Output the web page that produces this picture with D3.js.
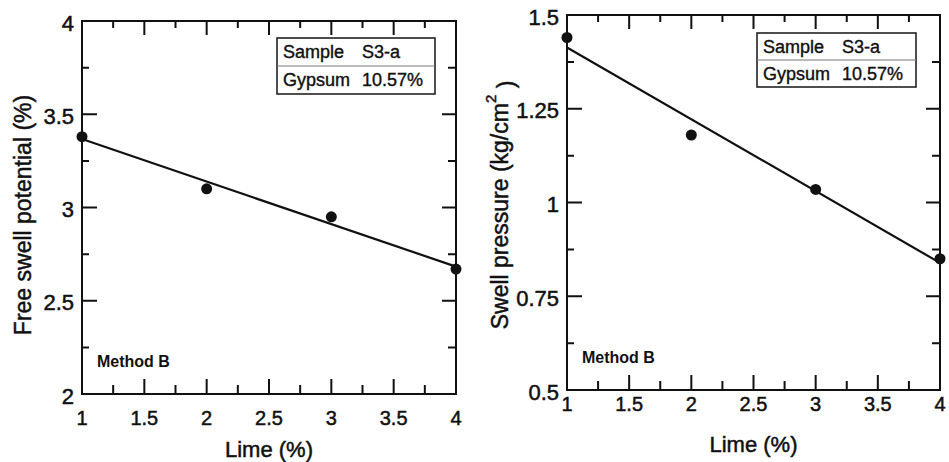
<!DOCTYPE html>
<html>
<head>
<meta charset="utf-8">
<script src="https://cdn.jsdelivr.net/npm/d3@7"></script>
<style>
  body { margin: 0; background: #fff; }
  svg { display: block; font-family: 'Liberation Sans', Arial, sans-serif; }
</style>
</head>
<body>
<div id="chart"></div>
<script>
// values
const limePct = [1, 2, 3, 4]
const freeSwell = [3.38, 3.10, 2.95, 2.67]
const swellPressure = [1.44, 1.18, 1.035, 0.85]

const limeTicks = [1, 1.5, 2, 2.5, 3, 3.5, 4]
const freeSwellTicks = [2, 2.5, 3, 3.5, 4]
const pressureTicks = [0.5, 0.75, 1, 1.25, 1.5]

const legendRows = [['Sample', 'S3-a'], ['Gypsum', '10.57%']]

const svg = d3.select('#chart')
  .append('svg')
  .attr('width', 949)
  .attr('height', 462)

let panels = [
  {
    box: { left: 82, right: 456, top: 21, bottom: 394 },
    values: freeSwell,
    yTicks: freeSwellTicks,
    yMinorStep: 0.25,
    yTitle: 'Free swell potential (%)',
    yTitleX: 23, yTitleY: 215,
    xLabelY: 418, xTitleY: 449,
    legend: { x: 277, y: 38, w: 158, h: 56 }
  },
  {
    box: { left: 567, right: 940, top: 15, bottom: 390 },
    values: swellPressure,
    yTicks: pressureTicks,
    yMinorStep: 0.125,
    yTitle: 'Swell pressure (kg/cm',
    yTitleX: 500, yTitleY: 205,
    xLabelY: 404, xTitleY: 444,
    legend: { x: 757, y: 33, w: 159, h: 54 }
  }
]

// scanned print looks heavier than a plain regular face
function ink(sel, w) {
  return sel.attr('fill', '#111').attr('stroke', '#111').attr('stroke-width', w || 0.5)
}

function drawPanel(p) {
  let b = p.box
  let g = svg.append('g')

  let x = d3.scaleLinear().domain([1, 4]).range([b.left, b.right])
  let y = d3.scaleLinear().domain(d3.extent(p.yTicks)).range([b.bottom, b.top])

  let yLo = d3.min(p.yTicks), yHi = d3.max(p.yTicks)
  let xMinor = d3.range(1.25, 4, 0.5)
  let yMinor = d3.range(yLo + p.yMinorStep, yHi, p.yMinorStep * 2)

  // frame plus inward ticks on all four sides, as one path
  let path = d3.path()
  path.rect(b.left, b.top, b.right - b.left, b.bottom - b.top)
  limeTicks.slice(1, -1).forEach(function(v) {
    path.moveTo(x(v), b.bottom); path.lineTo(x(v), b.bottom - 15)
    path.moveTo(x(v), b.top); path.lineTo(x(v), b.top + 14)
  })
  xMinor.forEach(function(v) {
    path.moveTo(x(v), b.bottom); path.lineTo(x(v), b.bottom - 9)
    path.moveTo(x(v), b.top); path.lineTo(x(v), b.top + 7)
  })
  p.yTicks.slice(1, -1).forEach(function(v) {
    path.moveTo(b.left, y(v)); path.lineTo(b.left + 15, y(v))
    path.moveTo(b.right, y(v)); path.lineTo(b.right - 14, y(v))
  })
  yMinor.forEach(function(v) {
    path.moveTo(b.left, y(v)); path.lineTo(b.left + 7, y(v))
    path.moveTo(b.right, y(v)); path.lineTo(b.right - 8, y(v))
  })
  g.append('path')
    .attr('d', path.toString())
    .attr('fill', 'none')
    .attr('stroke', '#111')
    .attr('stroke-width', 2)

  // tick labels
  ink(g.selectAll('.xlab').data(limeTicks).enter()
    .append('text')
    .attr('x', d => x(d))
    .attr('y', p.xLabelY)
    .attr('dy', '0.35em')
    .attr('text-anchor', 'middle')
    .attr('font-size', 20)
    .text(d => d))

  ink(g.selectAll('.ylab').data(p.yTicks).enter()
    .append('text')
    .attr('x', b.left - 8)
    .attr('y', d => y(d) + 2)
    .attr('dy', '0.35em')
    .attr('text-anchor', 'end')
    .attr('font-size', 22)
    .text(d => d))

  // axis titles
  ink(g.append('text')
    .attr('x', (b.left + b.right) / 2)
    .attr('y', p.xTitleY)
    .attr('dy', '0.35em')
    .attr('text-anchor', 'middle')
    .attr('font-size', 22)
    .text('Lime (%)'))

  let yt = ink(g.append('text')
    .attr('transform', `translate(${p.yTitleX},${p.yTitleY}) rotate(-90)`)
    .attr('dy', '0.35em')
    .attr('text-anchor', 'middle')
    .attr('font-size', 23)
    .text(p.yTitle))
  if (p.yTitle.endsWith('cm')) {
    yt.append('tspan').attr('dy', '-0.8em').attr('font-size', 15).text('2')
    yt.append('tspan').attr('dy', '0.8em').text(' )')
  }

  // least squares fit through the points
  let mx = d3.mean(limePct), my = d3.mean(p.values)
  let slope = d3.sum(limePct, (v, i) => (v - mx) * (p.values[i] - my)) / d3.sum(limePct, v => (v - mx) ** 2)
  let fit = [1, 4].map(v => [v, my + slope * (v - mx)])

  g.append('path')
    .attr('d', d3.line().x(d => x(d[0])).y(d => y(d[1]))(fit))
    .attr('fill', 'none')
    .attr('stroke', '#111')
    .attr('stroke-width', 2.2)

  g.selectAll('.pt').data(limePct).enter()
    .append('circle')
    .attr('cx', d => x(d))
    .attr('cy', (d, i) => y(p.values[i]))
    .attr('r', 5.5)
    .attr('fill', '#111')

  // sample box
  let L = p.legend
  let rowH = L.h / legendRows.length
  g.append('rect')
    .attr('x', L.x).attr('y', L.y).attr('width', L.w).attr('height', L.h)
    .attr('fill', '#fff').attr('stroke', '#222').attr('stroke-width', 1.6)
  g.append('path')
    .attr('d', `M${L.x},${L.y + rowH}H${L.x + L.w}`)
    .attr('stroke', '#777').attr('stroke-width', 1)
  legendRows.forEach(function(row, i) {
    ink(g.append('text')
      .attr('x', L.x + 6)
      .attr('y', L.y + rowH * (i + 0.5))
      .attr('dy', '0.35em')
      .attr('font-size', 18)
      .text(row[0]), 0.4)
    ink(g.append('text')
      .attr('x', L.x + 85)
      .attr('y', L.y + rowH * (i + 0.5))
      .attr('dy', '0.35em')
      .attr('font-size', 18)
      .text(row[1]), 0.4)
  })

  g.append('text')
    .attr('x', b.left + 15)
    .attr('y', y(yLo + (yHi - yLo) * 0.088))
    .attr('dy', '0.35em')
    .attr('font-size', 16)
    .attr('font-weight', 'bold')
    .attr('fill', '#111')
    .text('Method B')
}

panels.forEach(drawPanel)
</script>
</body>
</html>
